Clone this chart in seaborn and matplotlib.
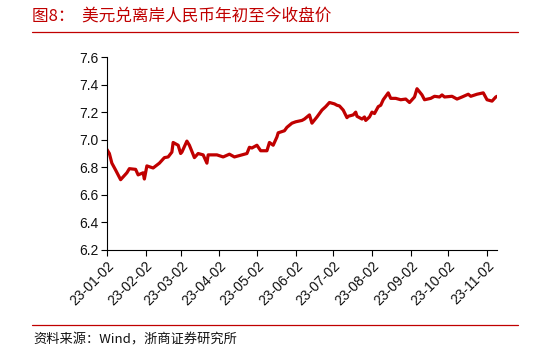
import matplotlib
matplotlib.use("Agg")
import matplotlib.pyplot as plt
import seaborn as sns
import pandas as pd

dates = ["2023-01-02", "2023-01-04", "2023-01-06", "2023-01-09", "2023-01-13", "2023-01-18",
         "2023-01-20", "2023-01-25", "2023-01-27", "2023-01-31", "2023-02-01", "2023-02-03",
         "2023-02-08", "2023-02-13", "2023-02-17", "2023-02-20", "2023-02-23", "2023-02-24",
         "2023-02-28", "2023-03-02", "2023-03-03", "2023-03-07", "2023-03-09", "2023-03-13",
         "2023-03-16", "2023-03-20", "2023-03-23", "2023-03-24", "2023-03-31", "2023-04-05",
         "2023-04-10", "2023-04-14", "2023-04-20", "2023-04-24", "2023-04-26", "2023-04-28",
         "2023-05-02", "2023-05-05", "2023-05-10", "2023-05-12", "2023-05-15", "2023-05-18",
         "2023-05-19", "2023-05-24", "2023-05-26", "2023-05-30", "2023-06-02", "2023-06-07",
         "2023-06-09", "2023-06-13", "2023-06-15", "2023-06-19", "2023-06-23", "2023-06-26",
         "2023-06-29", "2023-07-03", "2023-07-05", "2023-07-07", "2023-07-10", "2023-07-13",
         "2023-07-14", "2023-07-18", "2023-07-20", "2023-07-21", "2023-07-25", "2023-07-27",
         "2023-07-28", "2023-07-31", "2023-08-02", "2023-08-04", "2023-08-07", "2023-08-09",
         "2023-08-11", "2023-08-15", "2023-08-17", "2023-08-21", "2023-08-25", "2023-08-29",
         "2023-09-01", "2023-09-05", "2023-09-07", "2023-09-11", "2023-09-13", "2023-09-18",
         "2023-09-21", "2023-09-25", "2023-09-27", "2023-09-29", "2023-10-05", "2023-10-09",
         "2023-10-13", "2023-10-18", "2023-10-20", "2023-10-25", "2023-10-30", "2023-11-02",
         "2023-11-06", "2023-11-09", "2023-11-10"]
close = [6.93, 6.90, 6.83, 6.78, 6.71, 6.76,
         6.79, 6.785, 6.745, 6.76, 6.715, 6.81,
         6.795, 6.83, 6.87, 6.875, 6.91, 6.98,
         6.96, 6.90, 6.91, 6.99, 6.96, 6.87,
         6.90, 6.89, 6.83, 6.89, 6.89, 6.875,
         6.895, 6.875, 6.89, 6.90, 6.945, 6.94,
         6.96, 6.92, 6.92, 6.98, 6.96, 7.02,
         7.05, 7.065, 7.09, 7.12, 7.13, 7.14,
         7.15, 7.18, 7.12, 7.165, 7.215, 7.24,
         7.27, 7.26, 7.25, 7.245, 7.215, 7.16,
         7.17, 7.18, 7.20, 7.17, 7.15, 7.165,
         7.14, 7.165, 7.20, 7.19, 7.24, 7.25,
         7.29, 7.34, 7.30, 7.30, 7.29, 7.295,
         7.27, 7.31, 7.37, 7.325, 7.29, 7.30,
         7.315, 7.31, 7.325, 7.31, 7.315, 7.295,
         7.31, 7.33, 7.315, 7.33, 7.34, 7.29,
         7.28, 7.31, 7.315]
tick_dates = ["2023-01-02", "2023-02-02", "2023-03-02", "2023-04-02", "2023-05-02", "2023-06-02",
              "2023-07-02", "2023-08-02", "2023-09-02", "2023-10-02", "2023-11-02"]
y_ticks = [6.2, 6.4, 6.6, 6.8, 7.0, 7.2, 7.4, 7.6]

title = "图8：  美元兑离岸人民币年初至今收盘价"
source = "资料来源：Wind，浙商证券研究所"

df = pd.DataFrame({"date": pd.to_datetime(dates), "close": close})

sns.set_style("ticks")
plt.rcParams["font.family"] = ["Liberation Sans", "Noto Sans CJK SC"]

fig = plt.figure(figsize=(5.48, 3.53), dpi=100)
ax = fig.add_axes([0.195, 0.2918, 0.712, 0.5467])

sns.lineplot(data=df, x="date", y="close", ax=ax, color="#C00000", linewidth=2.3)

ax.set_ylim(6.2, 7.6)
ax.set_yticks(y_ticks)
ax.set_yticklabels([f"{v:.1f}" for v in y_ticks], fontsize=10, color="#111111")
ax.set_xlim(pd.Timestamp(dates[0]), pd.Timestamp(dates[-1]))
tk = pd.to_datetime(tick_dates)
ax.set_xticks(tk)
ax.set_xticklabels([d.strftime("%y-%m-%d") for d in tk], rotation=45, ha="right",
                   rotation_mode="anchor", fontsize=10, color="#111111")
ax.set_xlabel("")
ax.set_ylabel("")
for s in ["top", "right"]:
    ax.spines[s].set_visible(False)
for s in ["left", "bottom"]:
    ax.spines[s].set_color("black")
    ax.spines[s].set_linewidth(0.8)
ax.tick_params(axis="both", direction="out", length=4, width=0.8, color="black", pad=2)

fig.text(32 / 548, 1 - 16 / 353, title, fontsize=12, color="#C00000",
         family=["Noto Sans CJK SC"], va="center", ha="left")
fig.add_artist(plt.Line2D([32 / 548, 518 / 548], [1 - 32 / 353, 1 - 32 / 353],
                          color="#C00000", linewidth=0.9, transform=fig.transFigure))
fig.add_artist(plt.Line2D([32 / 548, 518 / 548], [1 - 325 / 353, 1 - 325 / 353],
                          color="#C00000", linewidth=0.9, transform=fig.transFigure))
fig.text(33 / 548, 1 - 340 / 353, source, fontsize=9.5, color="#111111",
         family=["Noto Sans CJK SC", "Liberation Sans"], va="center", ha="left")

fig.savefig("out.png", dpi=100)
